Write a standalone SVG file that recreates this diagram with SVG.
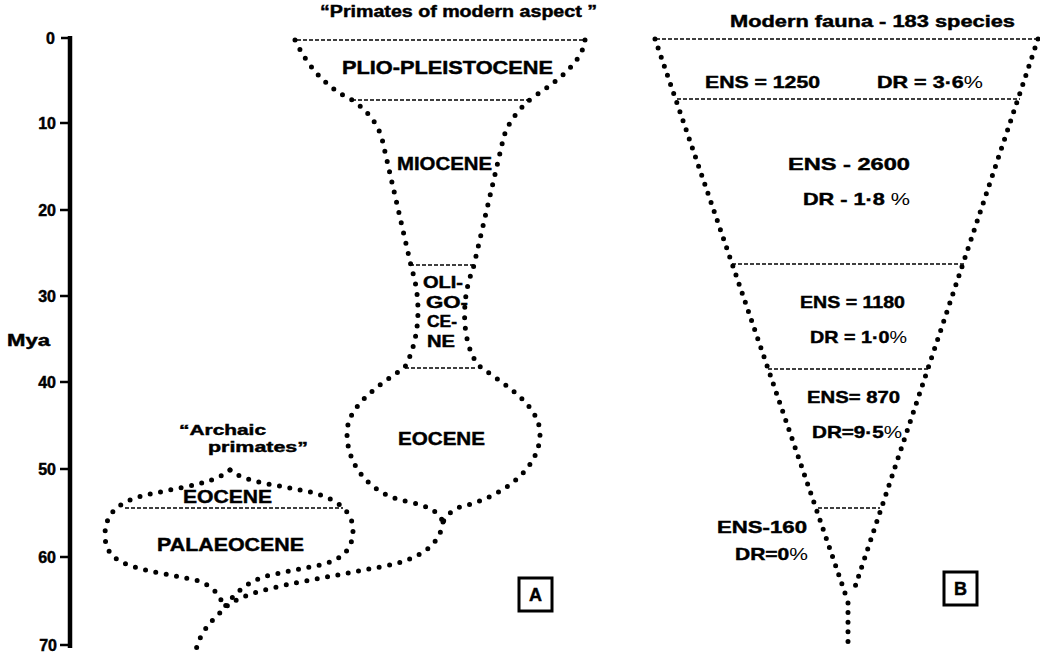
<svg xmlns="http://www.w3.org/2000/svg" width="1040" height="652" viewBox="0 0 1040 652">
<style>
text{font-family:"Liberation Sans",Arial,sans-serif;font-weight:bold;fill:#000;stroke:#000;stroke-width:0.45}
.dot{fill:none;stroke:#000;stroke-width:5;stroke-linecap:round;stroke-dasharray:0 10.5}
.dotB{fill:none;stroke:#000;stroke-width:5;stroke-linecap:round;stroke-dasharray:0 9.6}
.dash{fill:none;stroke:#000;stroke-width:1.6;stroke-dasharray:4 2}
.ax{stroke:#000;fill:none}
.pct{font-weight:normal;stroke-width:0}
.box{fill:none;stroke:#000;stroke-width:3}
</style>
<rect width="1040" height="652" fill="#fff"/>
<g id="axis">
<line class="ax" x1="70" y1="36" x2="70" y2="648" stroke-width="4.5"/>
<g class="ax" stroke-width="2.5">
<line x1="61" y1="38" x2="72" y2="38"/>
<line x1="60" y1="123" x2="70" y2="123"/>
<line x1="60" y1="210" x2="70" y2="210"/>
<line x1="60" y1="296" x2="70" y2="296"/>
<line x1="60" y1="382" x2="70" y2="382"/>
<line x1="60" y1="469" x2="70" y2="469"/>
<line x1="60" y1="557" x2="70" y2="557"/>
<line x1="60" y1="645" x2="72" y2="645"/>
</g>
<g font-size="16" text-anchor="end">
<text x="55" y="44">0</text>
<text x="56" y="129">10</text>
<text x="56" y="216">20</text>
<text x="56" y="302">30</text>
<text x="56" y="388">40</text>
<text x="56" y="475">50</text>
<text x="56" y="563">60</text>
<text x="57" y="651">70</text>
</g>
<text x="7" y="346" font-size="16" textLength="43" lengthAdjust="spacingAndGlyphs">Mya</text>
</g>
<g id="connectors">
<path class="dot" d="M295,40 Q315,82 352,100 Q378,118 383,143 L412,270 C420,295 422,335 405,367 C380,385 347,405 347,433 C347,470 375,495 405,501 C425,505 438,510 443,522"/>
<path class="dot" d="M585,40 C583,60 560,80 533,97 Q508,118 503,140 L473,269 C462,295 460,340 478,365 C505,385 540,405 540,434 C540,470 500,498 460,507 Q448,512 443,522"/>
<path class="dot" d="M443,522 C440,545 420,560 380,567 L300,582 C260,590 235,597 224,609 C212,620 200,632 196,650"/>
<path class="dot" d="M230,470 C220,478 205,483 185,487 L150,494 C123,500 105,510 105,535 C105,560 125,566 160,573 L195,580 C210,584 220,593 224,608"/>
<path class="dot" d="M230,470 C240,478 255,482 280,486 L310,492 C335,498 353,510 353,530 C353,555 335,563 310,567 L270,575 C250,580 235,592 224,608"/>
<path class="dotB" d="M655,39 L845,593"/>
<path class="dotB" d="M1038,39 L853,593"/>
<path class="dotB" d="M848,603 L848,648"/>
</g>
<g id="panelA-title">
<text x="320" y="17" font-size="16" textLength="277" lengthAdjust="spacingAndGlyphs">“Primates of modern aspect ”</text>
</g>
<g id="plio-pleistocene">
<line class="dash" x1="297" y1="40" x2="584" y2="40"/>
<text x="342" y="74" font-size="18" textLength="211" lengthAdjust="spacingAndGlyphs">PLIO-PLEISTOCENE</text>
</g>
<g id="miocene">
<line class="dash" x1="352" y1="100" x2="531" y2="100"/>
<text x="397" y="170" font-size="19" textLength="95" lengthAdjust="spacingAndGlyphs">MIOCENE</text>
</g>
<g id="oligocene">
<line class="dash" x1="410" y1="265" x2="473" y2="265"/>
<g font-size="16">
<text x="423" y="288" textLength="40" lengthAdjust="spacingAndGlyphs">OLI-</text>
<text x="426" y="308" textLength="42" lengthAdjust="spacingAndGlyphs">GO-</text>
<text x="427" y="327" textLength="30" lengthAdjust="spacingAndGlyphs">CE-</text>
<text x="427" y="347" textLength="28" lengthAdjust="spacingAndGlyphs">NE</text>
</g>
</g>
<g id="eocene">
<line class="dash" x1="405" y1="368" x2="476" y2="368"/>
<text x="398" y="445" font-size="19" textLength="87" lengthAdjust="spacingAndGlyphs">EOCENE</text>
</g>
<g id="archaic-primates">
<text x="179" y="435" font-size="15" textLength="87" lengthAdjust="spacingAndGlyphs">“Archaic</text>
<text x="208" y="452" font-size="15" textLength="100" lengthAdjust="spacingAndGlyphs">primates”</text>
</g>
<g id="archaic-eocene">
<text x="183" y="503" font-size="19" textLength="89" lengthAdjust="spacingAndGlyphs">EOCENE</text>
<line class="dash" x1="125" y1="508" x2="343" y2="508"/>
</g>
<g id="palaeocene">
<text x="157" y="551" font-size="19" textLength="147" lengthAdjust="spacingAndGlyphs">PALAEOCENE</text>
</g>
<g id="label-A">
<rect class="box" x="519" y="578" width="33" height="33"/>
<text x="535.5" y="601" font-size="18" text-anchor="middle">A</text>
</g>
<g id="panelB-title">
<text x="730" y="27" font-size="17" textLength="285" lengthAdjust="spacingAndGlyphs">Modern fauna - 183 species</text>
</g>
<g id="B-plio-pleistocene">
<line class="dash" x1="656" y1="39" x2="1037" y2="39"/>
<text x="705" y="88" font-size="17" textLength="115" lengthAdjust="spacingAndGlyphs">ENS = 1250</text>
<text x="877" y="88" font-size="17" textLength="106" lengthAdjust="spacingAndGlyphs">DR = 3·6<tspan class="pct">%</tspan></text>
</g>
<g id="B-miocene">
<line class="dash" x1="677" y1="99" x2="1020" y2="99"/>
<text x="788" y="170" font-size="17" textLength="122" lengthAdjust="spacingAndGlyphs">ENS - 2600</text>
<text x="803" y="205" font-size="17" textLength="107" lengthAdjust="spacingAndGlyphs">DR - 1·8 <tspan class="pct">%</tspan></text>
</g>
<g id="B-oligocene">
<line class="dash" x1="732" y1="264" x2="965" y2="264"/>
<text x="800" y="308" font-size="17" textLength="105" lengthAdjust="spacingAndGlyphs">ENS = 1180</text>
<text x="810" y="343" font-size="17" textLength="97" lengthAdjust="spacingAndGlyphs">DR = 1·0<tspan class="pct">%</tspan></text>
</g>
<g id="B-eocene">
<line class="dash" x1="768" y1="369" x2="928" y2="369"/>
<text x="807" y="403" font-size="17" textLength="93" lengthAdjust="spacingAndGlyphs">ENS= 870</text>
<text x="812" y="438" font-size="17" textLength="90" lengthAdjust="spacingAndGlyphs">DR=9·5<tspan class="pct">%</tspan></text>
</g>
<g id="B-palaeocene">
<line class="dash" x1="818" y1="508" x2="880" y2="508"/>
<text x="717" y="533" font-size="17" textLength="90" lengthAdjust="spacingAndGlyphs">ENS-160</text>
<text x="735" y="560" font-size="17" textLength="73" lengthAdjust="spacingAndGlyphs">DR=0<tspan class="pct">%</tspan></text>
</g>
<g id="label-B">
<rect class="box" x="944" y="572" width="33" height="33"/>
<text x="960.5" y="595" font-size="18" text-anchor="middle">B</text>
</g>
</svg>
